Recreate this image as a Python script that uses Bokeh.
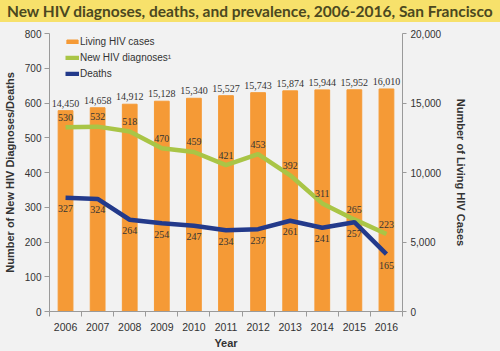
from bokeh.plotting import figure
from bokeh.models import (ColumnDataSource, Range1d, LinearAxis, FixedTicker, Legend,
                          LegendItem, Div, LabelSet, NumeralTickFormatter)
from bokeh.layouts import column
from bokeh.embed import file_html
from bokeh.resources import INLINE

years = [2006, 2007, 2008, 2009, 2010, 2011, 2012, 2013, 2014, 2015, 2016]
living_cases = [14450, 14658, 14912, 15128, 15340, 15527, 15743, 15874, 15944, 15952, 16010]
new_diagnoses = [530, 532, 518, 470, 459, 421, 453, 392, 311, 265, 223]
deaths = [327, 324, 264, 254, 247, 234, 237, 261, 241, 257, 165]

title_text = "New HIV diagnoses, deaths, and prevalence, 2006-2016, San Francisco"

BG = "#F2F2F2"
ORANGE = "#F59A36"
GREEN = "#A9C546"
NAVY = "#233A8B"
TXT = "#333333"
AX = "#9A9A9A"
FONT = "Arial"

src = ColumnDataSource(dict(
    year=years,
    living=living_cases,
    living_lbl=[f"{v:,}" for v in living_cases],
    new=new_diagnoses,
    new_lbl=[str(v) for v in new_diagnoses],
    deaths=deaths,
    deaths_lbl=[str(v) for v in deaths],
))

p = figure(width=500, height=329, output_backend="svg", toolbar_location=None,
           x_range=Range1d(2005.5, 2016.5), y_range=Range1d(0, 800),
           background_fill_color=BG, border_fill_color=BG,
           min_border_left=49, min_border_right=98, min_border_top=11, min_border_bottom=37)
p.outline_line_color = None
p.grid.visible = False
p.extra_y_ranges = {"living": Range1d(0, 20000)}

bars = p.vbar(x="year", top="living", width=0.46, source=src, color=ORANGE,
              y_range_name="living")
l_new = p.line(x="year", y="new", source=src, line_color=GREEN, line_width=4.5)
l_dead = p.line(x="year", y="deaths", source=src, line_color=NAVY, line_width=4.5)

lab_style = dict(text_font=FONT, text_font_size="10px", text_color=TXT, text_align="center")
p.add_layout(LabelSet(x="year", y="living", text="living_lbl", source=src, y_range_name="living",
                      y_offset=4, text_baseline="bottom", **lab_style))
p.add_layout(LabelSet(x="year", y="new", text="new_lbl", source=src,
                      y_offset=10, text_baseline="middle", **lab_style))
p.add_layout(LabelSet(x="year", y="deaths", text="deaths_lbl", source=src,
                      y_offset=-11, text_baseline="middle", **lab_style))

# x axis
xa = p.xaxis[0]
xa.ticker = FixedTicker(ticks=years, minor_ticks=[y - 0.5 for y in years] + [2016.5])
xa.major_tick_out = 0
xa.major_tick_in = 0
xa.minor_tick_out = 5
xa.minor_tick_in = 0
xa.axis_line_color = AX
xa.minor_tick_line_color = AX
xa.major_label_text_font = FONT
xa.major_label_text_font_size = "10.5px"
xa.major_label_text_color = TXT
xa.major_label_standoff = 6
xa.axis_label = "Year"
xa.axis_label_text_font = FONT
xa.axis_label_text_font_style = "bold"
xa.axis_label_text_font_size = "11px"
xa.axis_label_text_color = TXT
xa.axis_label_standoff = 3

# left axis
ya = p.yaxis[0]
ya.ticker = FixedTicker(ticks=list(range(0, 801, 100)))
ya.axis_line_color = AX
ya.major_tick_line_color = AX
ya.major_tick_out = 5
ya.major_tick_in = 0
ya.minor_tick_out = 0
ya.minor_tick_in = 0
ya.major_label_text_font = FONT
ya.major_label_text_font_size = "10px"
ya.major_label_text_color = TXT
ya.major_label_standoff = 3
ya.axis_label = "Number of New HIV Diagnoses/Deaths"
ya.axis_label_text_font = FONT
ya.axis_label_text_font_style = "bold"
ya.axis_label_text_font_size = "11px"
ya.axis_label_text_color = TXT
ya.axis_label_standoff = 6

# right axis
ra = LinearAxis(y_range_name="living", ticker=FixedTicker(ticks=[0, 5000, 10000, 15000, 20000]))
ra.formatter = NumeralTickFormatter(format="0,0")
ra.axis_line_color = AX
ra.major_tick_line_color = AX
ra.major_tick_out = 4
ra.major_tick_in = 0
ra.minor_tick_out = 0
ra.minor_tick_in = 0
ra.major_label_text_font = FONT
ra.major_label_text_font_size = "10px"
ra.major_label_text_color = TXT
ra.major_label_standoff = 4
ra.axis_label = "Number of Living HIV Cases"
ra.axis_label_text_font = FONT
ra.axis_label_text_font_style = "bold"
ra.axis_label_text_font_size = "11px"
ra.axis_label_text_color = TXT
ra.axis_label_standoff = 11
p.add_layout(ra, "right")

legend = Legend(items=[
    LegendItem(label="Living HIV cases", renderers=[bars]),
    LegendItem(label="New HIV diagnoses\u00b9", renderers=[l_new]),
    LegendItem(label="Deaths", renderers=[l_dead]),
], location=(16, 231))
legend.background_fill_alpha = 0
legend.border_line_color = None
legend.margin = 0
legend.padding = 2
legend.spacing = 3
legend.label_height = 13
legend.glyph_height = 5
legend.glyph_width = 14
legend.label_standoff = 1
legend.label_text_font = FONT
legend.label_text_font_size = "10px"
legend.label_text_color = TXT
p.add_layout(legend, "center")

div = Div(text=title_text, width=500, height=22, margin=0,
          styles={"background-color": "#F7E16B", "color": "#4B4820", "font-family": "Lato",
                  "font-weight": "bold", "font-size": "15.5px", "line-height": "22px",
                  "padding-left": "7px", "box-sizing": "border-box", "white-space": "nowrap",
                  "overflow": "hidden", "width": "500px", "height": "22px"})

layout = column(div, p, spacing=0, margin=0, styles={"background-color": BG})
open("out.html", "w").write(file_html(layout, INLINE))
